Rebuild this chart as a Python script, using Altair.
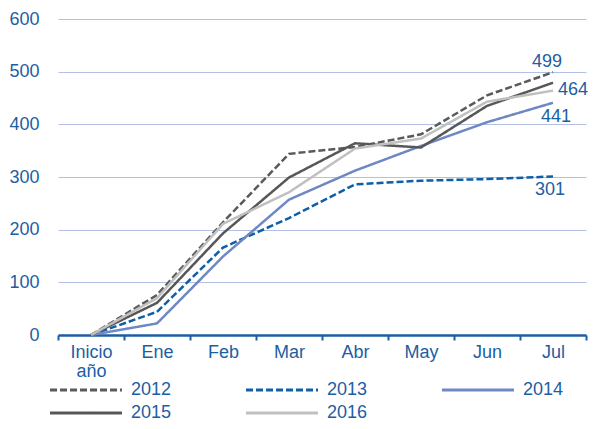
import altair as alt
import pandas as pd

months = ["Inicio año", "Ene", "Feb", "Mar", "Abr", "May", "Jun", "Jul"]
years = ["2012", "2013", "2014", "2015", "2016"]
v2012 = [0, 76, 214, 344, 357, 381, 455, 499]
v2013 = [0, 44, 166, 222, 286, 293, 296, 301]
v2014 = [0, 22, 149, 257, 312, 359, 404, 441]
v2015 = [0, 61, 193, 299, 364, 356, 435, 479]
v2016 = [0, 70, 211, 271, 354, 373, 443, 464]

colors = ["#5a5a5a", "#0f5ea8", "#6e88c6", "#575757", "#c0c0c0"]
dashes = [[7, 3], [7, 3], [1, 0], [1, 0], [1, 0]]

BLUE = "#1c5ea4"
FONT = "Liberation Sans"

rows = []
for yr, vals in zip(years, [v2012, v2013, v2014, v2015, v2016]):
    for m, v in zip(months, vals):
        rows.append({"mes": m, "anio": yr, "valor": v})
df = pd.DataFrame(rows)

x_enc = alt.X(
    "mes:N", sort=months,
    scale=alt.Scale(type="band", paddingInner=0, paddingOuter=0),
    bandPosition=0.5,
    axis=alt.Axis(title=None, labelAngle=0, labelExpr="split(datum.label, ' ')",
                  tickBand="extent", grid=False, domainColor=BLUE, domainWidth=2.5,
                  tickColor=BLUE, tickWidth=2, tickSize=5, labelPadding=3,
                  labelFontSize=18, labelColor=BLUE, labelFont=FONT, labelLineHeight=19),
)
y_enc = alt.Y(
    "valor:Q", scale=alt.Scale(domain=[0, 600], nice=False),
    axis=alt.Axis(title=None, values=[0, 100, 200, 300, 400, 500, 600], domain=False,
                  ticks=False, gridColor="#b3bfe3", gridWidth=1, labelPadding=19,
                  labelFontSize=18, labelColor=BLUE, labelFont=FONT),
)

lines = alt.Chart(df).mark_line(strokeWidth=2.5).encode(
    x=x_enc, y=y_enc,
    color=alt.Color("anio:N", scale=alt.Scale(domain=years, range=colors),
                    legend=alt.Legend(title=None, orient="none", legendX=19, legendY=362,
                                      columns=3, direction="horizontal",
                                      symbolType="M-5,0H5",
                                      symbolSize=207, symbolStrokeWidth=3, labelFontSize=18,
                                      labelColor=BLUE, labelFont=FONT, labelOffset=36,
                                      columnPadding=68, rowPadding=5)),
    strokeDash=alt.StrokeDash("anio:N", scale=alt.Scale(domain=years, range=dashes), legend=None),
)


def lab(year, dx, dy, align):
    return alt.Chart(df).transform_filter(
        (alt.datum.anio == year) & (alt.datum.mes == "Jul")
    ).mark_text(dx=dx, dy=dy, align=align, baseline="middle", fontSize=18,
                color=BLUE, font=FONT).encode(x=x_enc, y=y_enc, text="valor:Q")


chart = alt.layer(
    lines,
    lab("2012", -6, -10, "center"),
    lab("2016", 5, -1, "left"),
    lab("2014", 3, 14, "center"),
    lab("2013", -3, 14, "center"),
).properties(
    width=528, height=316,
    padding={"left": 0, "top": 2, "right": 0, "bottom": 0},
).configure_view(stroke=None)

chart.save("out.html", embed_options={"renderer": "svg", "actions": False})
